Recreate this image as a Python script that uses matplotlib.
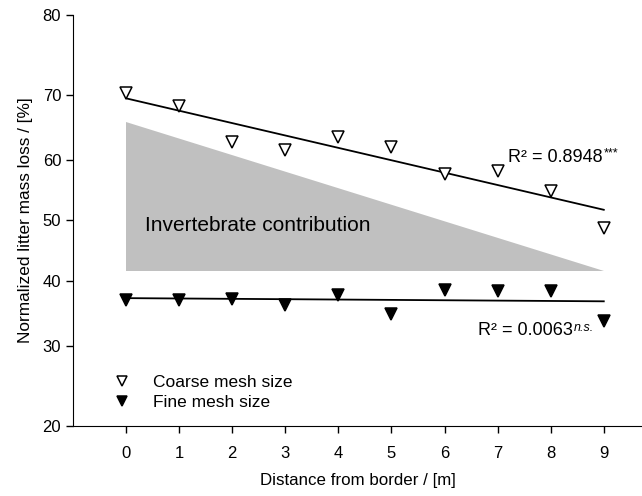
import numpy as np
import matplotlib
matplotlib.use("Agg")
import matplotlib.pyplot as plt
from matplotlib.lines import Line2D

plt.rcParams['font.family'] = ['Liberation Sans', 'DejaVu Sans']

# data (percent)
distance = [0, 1, 2, 3, 4, 5, 6, 7, 8, 9]
coarse = [70.2, 68.4, 63.0, 61.7, 63.7, 62.2, 57.7, 58.2, 55.0, 48.7]
fine = [36.9, 36.9, 37.1, 36.1, 37.7, 34.7, 38.5, 38.3, 38.3, 33.7]
coarse_fit = [69.5, 51.8]      # regression line at x=0 and x=9
fine_fit = [37.2, 36.7]
wedge_x = [0, 0, 9]
wedge_y = [66.0, 41.5, 41.5]
yticks = [20, 30, 40, 50, 60, 70, 80]


def fwd(y):
    y = np.clip(np.asarray(y, dtype=float), 1e-6, 100 - 1e-6)
    return np.log(y / (100 - y))


def inv(z):
    return 100 / (1 + np.exp(-np.asarray(z, dtype=float)))


fig = plt.figure(figsize=(6.42, 4.96), dpi=100)
ax = fig.add_axes([0.1137, 0.141, 0.8863, 0.829])
ax.set_yscale('function', functions=(fwd, inv))

ax.fill(wedge_x, wedge_y, color='#c0c0c0', lw=0, zorder=1)
ax.plot([0, 9], coarse_fit, color='black', lw=1.3, zorder=2)
ax.plot([0, 9], fine_fit, color='black', lw=1.3, zorder=2)
ax.plot(distance, coarse, ls='none', marker='v', ms=8, mfc='white', mec='black', mew=1.1, zorder=3)
ax.plot(distance, fine, ls='none', marker='v', ms=8, mfc='black', mec='black', mew=1.1, zorder=3)

ax.text(0.36, 48.3, 'Invertebrate contribution', fontsize=15, ha='left', va='baseline')
t1 = ax.text(7.2, 59.8, 'R² = 0.8948', fontsize=13, ha='left', va='baseline')
ax.annotate('***', xy=(1, 1), xycoords=t1, xytext=(0.5, 1), textcoords='offset points',
            fontsize=9, ha='left', va='top')
t2 = ax.text(6.63, 31.6, 'R² = 0.0063', fontsize=13, ha='left', va='baseline')
ax.annotate('n.s.', xy=(1, 1), xycoords=t2, xytext=(0.5, 0), textcoords='offset points',
            fontsize=9, style='italic', ha='left', va='top')

handles = [Line2D([], [], ls='none', marker='v', ms=7.5, mfc='white', mec='black', mew=1.1),
           Line2D([], [], ls='none', marker='v', ms=7.5, mfc='black', mec='black', mew=1.1)]
ax.legend(handles, ['Coarse mesh size', 'Fine mesh size'], loc='upper left',
          bbox_to_anchor=(0.0708, 0.125), frameon=False, fontsize=12.5, borderpad=0,
          handlelength=1.0, handletextpad=1.29, labelspacing=0.28, borderaxespad=0)

ax.set_xlim(-1, 9.72)
ax.set_ylim(20, 80)
ax.set_xticks(distance)
ax.set_yticks(yticks)
ax.set_yticklabels([str(t) for t in yticks])
ax.minorticks_off()
ax.spines['top'].set_visible(False)
ax.spines['right'].set_visible(False)
ax.tick_params(direction='out', length=5, width=1, labelsize=12)
ax.tick_params(axis='x', pad=9)
ax.set_xlabel('Distance from border / [m]', fontsize=12.2, labelpad=9)
ax.set_ylabel('Normalized litter mass loss / [%]', fontsize=12.4, labelpad=7)

fig.savefig('out.png', dpi=100)
